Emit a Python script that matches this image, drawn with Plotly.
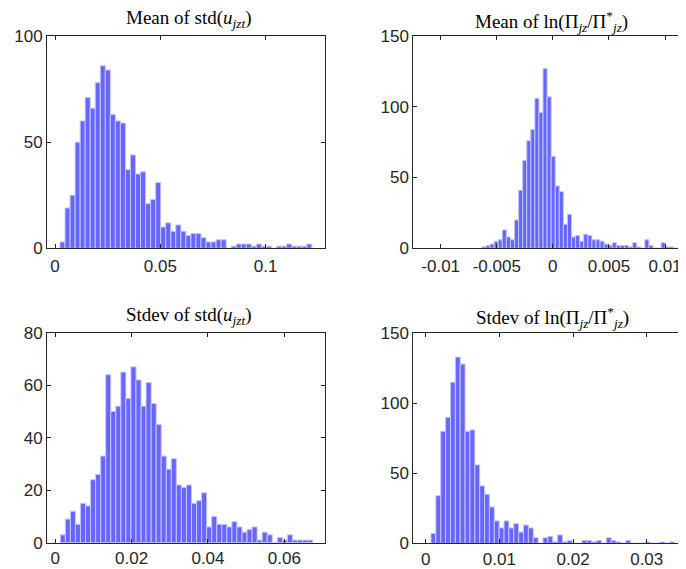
import plotly.graph_objects as go

# ---------------- data (histogram counts, 50 bins each) ----------------
tl_counts = [3, 19, 25, 50, 60, 71, 66, 78, 86, 84,
             63, 60, 59, 37, 44, 35, 36, 21, 23, 31,
             10, 12, 8, 11, 8, 6, 7, 7, 5, 3,
             3, 4, 4, 0, 1, 2, 2, 2, 1, 2,
             1, 1, 0, 1, 1, 2, 1, 1, 1, 2]
tl_bin_start = 0.00237
tl_bin_width = 0.002391

tr_counts = [1, 2, 3, 5, 6, 13, 8, 6, 20, 41,
             62, 76, 84, 106, 96, 127, 107, 65, 44, 40,
             17, 24, 8, 9, 5, 10, 9, 6, 6, 5,
             3, 2, 4, 2, 2, 2, 1, 4, 1, 0,
             6, 2, 0, 0, 4, 1, 1, 0, 0, 3]
tr_bin_start = -0.00632
tr_bin_width = 0.000363

bl_counts = [3, 9, 12, 7, 15, 14, 24, 26, 33, 64,
             50, 52, 65, 55, 67, 62, 52, 61, 53, 45,
             33, 28, 32, 22, 21, 22, 15, 16, 19, 6,
             10, 7, 7, 6, 8, 6, 4, 5, 6, 1,
             4, 3, 0, 2, 1, 3, 1, 1, 1, 1]
bl_bin_start = 0.00131
bl_bin_width = 0.001322

br_counts = [7, 34, 80, 90, 115, 133, 128, 80, 81, 56,
             41, 35, 26, 16, 11, 16, 11, 14, 8, 13,
             11, 4, 0, 4, 5, 1, 6, 1, 2, 0,
             0, 2, 2, 1, 2, 0, 4, 2, 1, 0,
             2, 0, 0, 0, 1, 0, 0, 1, 0, 1]
br_bin_start = 0.00072
br_bin_width = 0.000661

tl_xticks = [0, 0.05, 0.1]
tl_xlabels = ["0", "0.05", "0.1"]
tl_yticks = [0, 50, 100]
tr_xticks = [-0.01, -0.005, 0, 0.005, 0.01]
tr_xlabels = ["-0.01", "-0.005", "0", "0.005", "0.01"]
tr_yticks = [0, 50, 100, 150]
bl_xticks = [0, 0.02, 0.04, 0.06]
bl_xlabels = ["0", "0.02", "0.04", "0.06"]
bl_yticks = [0, 20, 40, 60, 80]
br_xticks = [0, 0.01, 0.02, 0.03]
br_xlabels = ["0", "0.01", "0.02", "0.03"]
br_yticks = [0, 50, 100, 150]

titles = [
    "Mean of std(<i>u</i><sub><i>jzt</i></sub>)",
    "Mean of ln(Π<sub><i>jz</i></sub>/Π<sup>*</sup><sub><i>jz</i></sub>)",
    "Stdev of std(<i>u</i><sub><i>jzt</i></sub>)",
    "Stdev of ln(Π<sub><i>jz</i></sub>/Π<sup>*</sup><sub><i>jz</i></sub>)",
]

# ---------------- figure ----------------
# The page body has an 8px margin, so the figure is drawn 8px smaller and
# all window-pixel positions are shifted by that offset.
OFF = 8
W, H = 686 - OFF, 569 - OFF
fig = go.Figure()

FILL = "rgb(102,102,255)"
EDGE = "rgb(196,196,255)"
AX = "rgb(38,38,38)"
TICKFONT = dict(size=17, color=AX, family="Liberation Sans, Arial, sans-serif")

panels = [
    # counts, start, width, xref, yref, xdom(px), ydom(px), xrange, yrange, xt, xl, yt,
    # title-x(px), title gap above axes(px), xlabel-standoff
    (tl_counts, tl_bin_start, tl_bin_width, "x", "y", (47, 325), (36, 248.3),
     [-0.0038, 0.1282], [0, 100], tl_xticks, tl_xlabels, tl_yticks, 189, 17, 2),
    (tr_counts, tr_bin_start, tr_bin_width, "x2", "y2", (413.3, 686), (36, 248.3),
     [-0.01244, 0.01187], [0, 150], tr_xticks, tr_xlabels, tr_yticks, 551, 15, 2),
    (bl_counts, bl_bin_start, bl_bin_width, "x3", "y3", (47, 325), (332.7, 542.7),
     [-0.00217, 0.07065], [0, 80], bl_xticks, bl_xlabels, bl_yticks, 189, 17, 0),
    (br_counts, br_bin_start, br_bin_width, "x4", "y4", (413.3, 686), (333.3, 543.3),
     [-0.00168, 0.03533], [0, 150], br_xticks, br_xlabels, br_yticks, 552, 16, 0),
]

layout = dict(
    width=W, height=H, margin=dict(l=0, r=0, t=0, b=0, autoexpand=False),
    paper_bgcolor="white", plot_bgcolor="white",
    showlegend=False, barmode="overlay",
    font=dict(family="Liberation Sans, Arial, sans-serif", size=17, color=AX),
)
annotations = []
for i, (counts, start, width, xr, yr, xd, yd, xrng, yrng, xt, xl, yt, tcx, tgap, xso) in enumerate(panels):
    centers = [start + width * (k + 0.5) for k in range(len(counts))]
    fig.add_trace(go.Bar(
        x=centers, y=counts, width=width, xaxis=xr, yaxis=yr,
        marker=dict(color=FILL, line=dict(color=EDGE, width=1)),
        hoverinfo="x+y",
    ))
    xname = "xaxis" if i == 0 else f"xaxis{i+1}"
    yname = "yaxis" if i == 0 else f"yaxis{i+1}"
    common = dict(showgrid=False, zeroline=False, showline=True, linecolor=AX,
                  linewidth=1, mirror="allticks", ticks="inside", ticklen=4,
                  tickcolor=AX, tickwidth=1, automargin=False, tickfont=TICKFONT)
    x0, x1 = (xd[0] - OFF) / W, min(1.0, (xd[1] - OFF) / W)
    y0, y1 = 1 - (yd[1] - OFF) / H, 1 - (yd[0] - OFF) / H
    layout[xname] = dict(domain=[x0, x1], range=xrng, anchor=yr,
                         tickmode="array", tickvals=xt, ticktext=xl,
                         ticklabelstandoff=xso, **common)
    layout[yname] = dict(domain=[y0, y1], range=yrng, anchor=xr,
                         tickmode="array", tickvals=yt, ticktext=[str(v) for v in yt],
                         ticklabelstandoff=0, **common)
    annotations.append(dict(
        text=titles[i], xref="paper", yref="paper",
        x=(tcx - OFF) / W, y=1 - (yd[0] - tgap - OFF) / H,
        xanchor="center", yanchor="middle", showarrow=False,
        font=dict(family="Liberation Serif, Times New Roman, serif", size=19, color="black"),
    ))
layout["annotations"] = annotations
fig.update_layout(**layout)
fig.write_html("out.html")
